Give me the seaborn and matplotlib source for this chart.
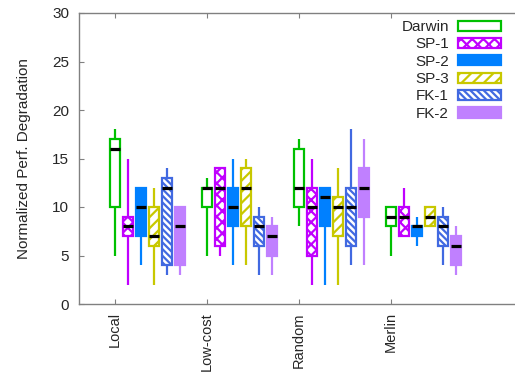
import numpy as np
import pandas as pd
import matplotlib
matplotlib.use("Agg")
import matplotlib.pyplot as plt
from matplotlib.patches import Patch
import seaborn as sns

# ---- data: [min, q1, median, q3, max] per scenario ----
scenarios = ["Local", "Low-cost", "Random", "Merlin"]
systems = ["Darwin", "SP-1", "SP-2", "SP-3", "FK-1", "FK-2"]

darwin = [[5, 10, 16, 17, 18], [5, 10, 12, 12, 13], [8, 10, 12, 16, 17], [5, 8, 9, 10, 10]]
sp1 = [[2, 7, 8, 9, 15], [5, 6, 12, 14, 14], [2, 5, 10, 12, 15], [7, 7, 9, 10, 12]]
sp2 = [[4, 7, 10, 12, 12], [4, 8, 10, 12, 15], [2, 8, 11, 12, 12], [6, 7, 8, 8, 9]]
sp3 = [[2, 6, 7, 10, 12], [4, 8, 12, 14, 15], [2, 7, 10, 11, 14], [8, 8, 9, 10, 10]]
fk1 = [[3, 4, 12, 13, 14], [3, 6, 8, 9, 10], [4, 6, 10, 12, 18], [4, 6, 8, 9, 10]]
fk2 = [[3, 4, 8, 10, 10], [3, 5, 7, 8, 9], [4, 9, 12, 14, 17], [3, 4, 6, 7, 8]]

stats_by_system = [darwin, sp1, sp2, sp3, fk1, fk2]
colors = ["#00c000", "#c000ff", "#0080ff", "#c8c800", "#4169e1", "#c080ff"]
hatches = [None, "xxx", None, "///", "\\\\\\\\\\", None]
filled = [False, False, True, False, False, True]

rows = []
for sysname, sysstats in zip(systems, stats_by_system):
    for scen, five in zip(scenarios, sysstats):
        for v in five:
            rows.append({"scenario": scen, "system": sysname, "value": v})
df = pd.DataFrame(rows)

sns.set_style("white")
plt.rcParams["font.family"] = ["Liberation Sans", "DejaVu Sans"]
plt.rcParams["hatch.linewidth"] = 1.6

fig = plt.figure(figsize=(5.15, 3.75), dpi=100)
ax = fig.add_axes([79 / 515, 71 / 375, (525 - 79) / 515, 291 / 375])

WIDTH = 0.848
GAP = 0.19
palette = dict(zip(systems, colors))

for i, sysname in enumerate(systems):
    c = colors[i]
    face = c if filled[i] else "white"
    boxprops = dict(facecolor=face, edgecolor=c, linewidth=1.6)
    if hatches[i]:
        boxprops["hatch"] = hatches[i]
    sns.boxplot(
        data=df[df["system"] == sysname], x="scenario", y="value",
        hue="system", hue_order=systems, order=scenarios, palette=palette,
        dodge=True,
        whis=(0, 100), showcaps=False, showfliers=False,
        width=WIDTH, gap=GAP, linewidth=1.6, legend=False,
        boxprops=boxprops,
        medianprops=dict(color="black", linewidth=2.3),
        whiskerprops=dict(color=c, linewidth=1.6),
        ax=ax,
    )

# axes styling
ax.set_ylim(0, 30)
ax.set_yticks(range(0, 31, 5))
ax.set_xlim(-0.745, 4.103)
tick_pos = np.arange(len(scenarios)) - 2.5 * WIDTH / len(systems)
ax.set_xticks(tick_pos)
ax.set_xticklabels(scenarios, rotation=90, va="top", ha="center", fontsize=10.5)
ax.set_xlabel("")
ax.set_ylabel("Normalized Perf. Degradation", fontsize=11, labelpad=15)
ax.tick_params(axis="both", direction="in", length=3.5, width=0.8,
               color="#808080")
ax.tick_params(axis="y", labelsize=11)
ax.tick_params(axis="x", top=True, bottom=True, pad=6)
ax.tick_params(axis="y", left=True, right=False, pad=7)
for side, sp in ax.spines.items():
    sp.set_color("#808080")
    sp.set_linewidth(1.0)
ax.spines["right"].set_visible(False)

handles = []
for i, sysname in enumerate(systems):
    c = colors[i]
    handles.append(Patch(facecolor=c if filled[i] else "white", edgecolor=c,
                         hatch=hatches[i], linewidth=1.6, label=sysname))
ax.legend(handles=handles, loc="upper right", markerfirst=False, frameon=False,
          bbox_to_anchor=(501 / 515, 355 / 375), bbox_transform=fig.transFigure,
          borderaxespad=0, borderpad=0, fontsize=11, handlelength=2.8,
          handleheight=0.65, labelspacing=0.22, handletextpad=0.6)

fig.savefig("out.png", dpi=100)
